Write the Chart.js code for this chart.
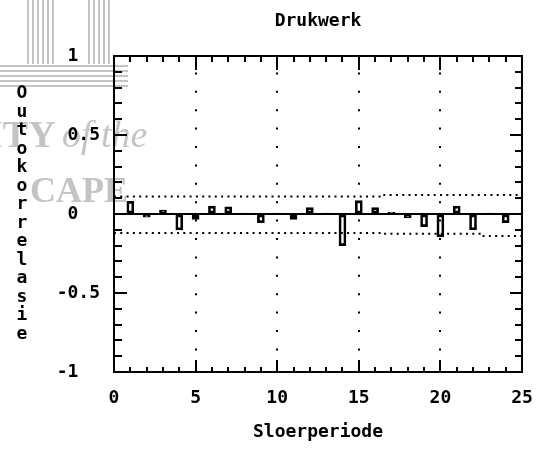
<!DOCTYPE html>
<html>
<head>
<meta charset="utf-8">
<script src="https://cdn.jsdelivr.net/npm/chart.js@4.4.1/dist/chart.umd.min.js"></script>
<style>
  body { margin: 0; background: #fff; }
  canvas { display: block; }
</style>
</head>
<body>
<canvas id="acfChart" width="541" height="449"></canvas>
<script>
// autocorrelation per lag
const lags = [1, 2, 3, 4, 5, 6, 7, 8, 9, 10, 11, 12, 13, 14, 15, 16, 17, 18, 19, 20, 21, 22, 23, 24];
const acf = [0.08, -0.02, 0.025, -0.1, -0.035, 0.05, 0.045, 0.003, -0.055, 0.003, -0.035, 0.04,
             0.003, -0.2, 0.085, 0.04, 0.01, -0.025, -0.08, -0.145, 0.05, -0.1, 0.003, -0.055];

// confidence limits (dotted)
const bandLags = [0, 1, 2, 3, 4, 5, 6, 7, 8, 9, 10, 11, 12, 13, 14, 15, 16, 17, 18, 19, 20, 21, 22, 23, 24, 25];
const upperBand = [0.11, 0.11, 0.11, 0.11, 0.11, 0.11, 0.11, 0.11, 0.11, 0.11, 0.11, 0.11, 0.11,
                   0.11, 0.11, 0.11, 0.11, 0.12, 0.12, 0.12, 0.12, 0.12, 0.12, 0.12, 0.12, 0.12];
const lowerBand = [-0.12, -0.12, -0.12, -0.12, -0.12, -0.12, -0.12, -0.12, -0.12, -0.12, -0.12, -0.12, -0.12,
                   -0.12, -0.12, -0.12, -0.12, -0.125, -0.125, -0.125, -0.125, -0.125, -0.125, -0.14, -0.14, -0.14];

const yTickValues = [-1, -0.5, 0, 0.5, 1];
const yTickLabels = ['-1  ', '-0.5', '0  ', '0.5', '1  '];
const xGridLines = [5, 10, 15, 20];

const chartTitle = 'Drukwerk';
const yTitle = 'Outokorrelasie';

const monoFont = "'DejaVu Sans Mono', monospace";

// faint scanned watermark behind the chart
const watermark = {
    id: 'watermark',
    beforeDraw(chart) {
        const ctx = chart.ctx;
        ctx.save();
        ctx.strokeStyle = '#c4c4c4';
        ctx.lineWidth = 2;
        [28, 33, 38, 43, 48, 53, 89, 94, 99, 104, 109].forEach(px => {
            ctx.beginPath();
            ctx.moveTo(px, 0);
            ctx.lineTo(px, 64);
            ctx.stroke();
        });
        [66, 71, 76, 81, 86].forEach(py => {
            ctx.beginPath();
            ctx.moveTo(0, py);
            ctx.lineTo(128, py);
            ctx.stroke();
        });
        ctx.fillStyle = '#c4c4c4';
        ctx.font = "bold 38px 'Liberation Serif', serif";
        ctx.textBaseline = 'alphabetic';
        ctx.fillText('ITY', -12, 147);
        ctx.font = "italic 38px 'Liberation Serif', serif";
        ctx.fillText('of the', 62, 147);
        ctx.font = "bold 36px 'Liberation Serif', serif";
        ctx.fillText('CAPE', 30, 202);
        ctx.restore();
    }
};

// frame, inward ticks, title and stacked y title
const frame = {
    id: 'frame',
    afterDraw(chart) {
        const ctx = chart.ctx;
        const a = chart.chartArea;
        const xs = chart.scales.x;
        const ys = chart.scales.y;
        ctx.save();
        ctx.strokeStyle = '#000';
        ctx.lineWidth = 2;
        ctx.strokeRect(a.left, a.top, a.right - a.left, a.bottom - a.top);
        ctx.beginPath();
        for (let i = 0; i <= 25; i++) {
            const px = Math.round(xs.getPixelForValue(i));
            const major = i % 5 === 0;
            ctx.moveTo(px, a.top);
            ctx.lineTo(px, a.top + (major ? 14 : 6));
            ctx.moveTo(px, a.bottom);
            ctx.lineTo(px, a.bottom - (major ? 12 : 5));
        }
        for (let i = -10; i <= 10; i++) {
            const py = Math.round(ys.getPixelForValue(i / 10));
            const major = i % 5 === 0;
            ctx.moveTo(a.left, py);
            ctx.lineTo(a.left + (major ? 13 : 8), py);
            ctx.moveTo(a.right, py);
            ctx.lineTo(a.right - (major ? 12 : 7), py);
        }
        ctx.stroke();

        ctx.fillStyle = '#000';
        ctx.font = 'bold 18px ' + monoFont;
        ctx.textAlign = 'center';
        ctx.textBaseline = 'middle';
        ctx.fillText(chartTitle, (a.left + a.right) / 2, 21);

        const mid = (a.top + a.bottom) / 2;
        const pitch = 18.5;
        for (let i = 0; i < yTitle.length; i++) {
            ctx.fillText(yTitle[i], 22, mid + (i - (yTitle.length - 1) / 2) * pitch);
        }
        ctx.restore();
    }
};

new Chart(document.getElementById('acfChart'), {
    type: 'bar',
    data: {
        datasets: [
            {
                type: 'bar',
                data: lags.map((l, i) => ({ x: l, y: acf[i] })),
                backgroundColor: 'rgba(255,255,255,0)',
                borderColor: '#000',
                borderWidth: 2,
                borderSkipped: false,
                barThickness: 7,
                order: 1
            },
            {
                type: 'line',
                data: bandLags.map((l, i) => ({ x: l, y: upperBand[i] })),
                borderColor: '#000',
                borderWidth: 2,
                borderDash: [2, 4.3],
                pointRadius: 0,
                stepped: 'middle',
                order: 2
            },
            {
                type: 'line',
                data: bandLags.map((l, i) => ({ x: l, y: lowerBand[i] })),
                borderColor: '#000',
                borderWidth: 2,
                borderDash: [2, 4.3],
                pointRadius: 0,
                stepped: 'middle',
                order: 2
            }
        ]
    },
    options: {
        responsive: false,
        devicePixelRatio: 1,
        animation: false,
        layout: { padding: { left: 0, right: 19, top: 56, bottom: 0 } },
        plugins: {
            legend: { display: false },
            tooltip: { enabled: false },
            title: { display: false }
        },
        scales: {
            x: {
                type: 'linear',
                min: 0,
                max: 25,
                offset: false,
                afterFit: s => { s.height = 77; s.paddingLeft = 0; s.paddingRight = 0; },
                ticks: {
                    stepSize: 5,
                    color: '#000',
                    padding: 16,
                    maxRotation: 0,
                    font: { family: monoFont, size: 18, weight: 'bold' }
                },
                grid: {
                    offset: false,
                    drawTicks: false,
                    lineWidth: 2,
                    color: c => xGridLines.includes(c.tick.value) ? '#000' : 'rgba(0,0,0,0)'
                },
                border: { display: false, dash: [2, 16.4], dashOffset: 2 },
                title: {
                    display: true,
                    text: 'Sloerperiode',
                    color: '#000',
                    font: { family: monoFont, size: 18, weight: 'bold' },
                    padding: { top: 0, bottom: 6 }
                }
            },
            y: {
                min: -1,
                max: 1,
                afterFit: s => { s.width = 114; s.paddingTop = 0; s.paddingBottom = 0; },
                afterBuildTicks: s => { s.ticks = yTickValues.map(v => ({ value: v })); },
                ticks: {
                    color: '#000',
                    padding: 14,
                    font: { family: monoFont, size: 18, weight: 'bold' },
                    callback: v => yTickLabels[yTickValues.indexOf(v)]
                },
                grid: {
                    drawTicks: false,
                    lineWidth: 2,
                    color: c => c.tick.value === 0 ? '#000' : 'rgba(0,0,0,0)'
                },
                border: { display: false }
            }
        }
    },
    plugins: [watermark, frame]
});
</script>
</body>
</html>
